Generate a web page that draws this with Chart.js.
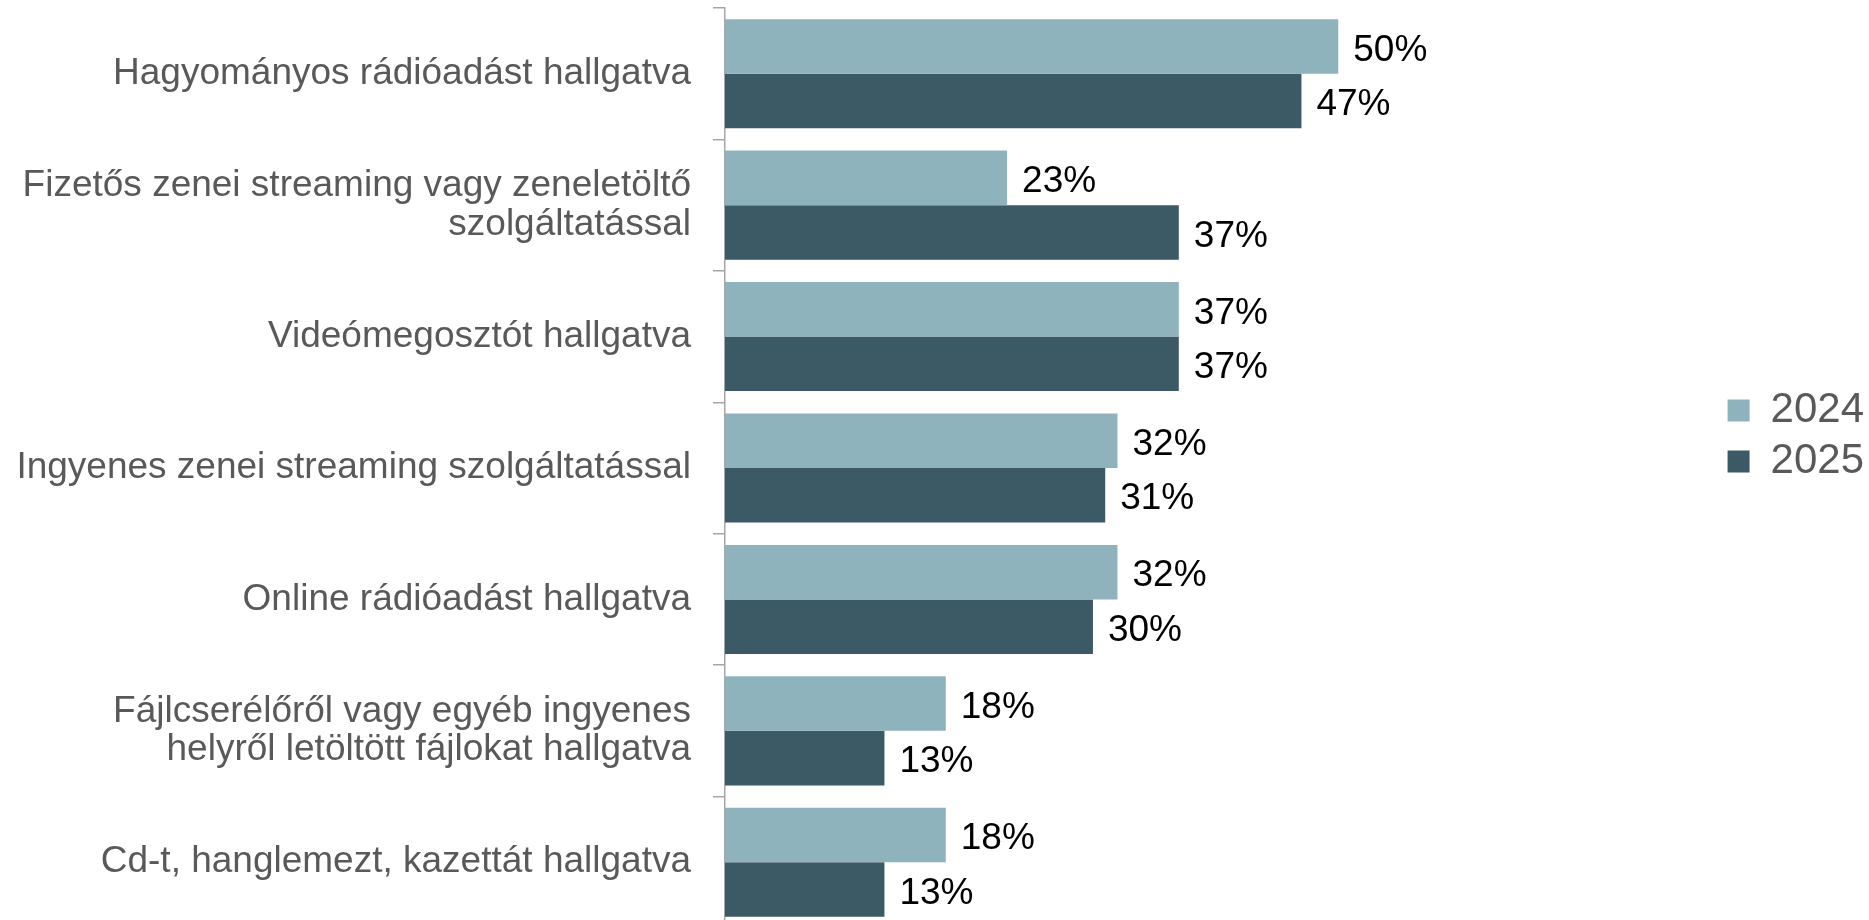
<!DOCTYPE html>
<html>
<head>
<meta charset="utf-8">
<script src="https://cdn.jsdelivr.net/npm/chart.js@4/dist/chart.umd.min.js"></script>
<style>
  html, body { margin: 0; padding: 0; background: #fff; overflow: hidden; }
  #wrap { width: 1869px; height: 930px; position: relative; }
</style>
</head>
<body>
<div id="wrap"><canvas id="myChart"></canvas></div>
<script>
// categories and values
const categories = [
  "Hagyományos rádióadást hallgatva",
  ["Fizetős zenei streaming vagy zeneletöltő", "szolgáltatással"],
  "Videómegosztót hallgatva",
  "Ingyenes zenei streaming szolgáltatással",
  "Online rádióadást hallgatva",
  ["Fájlcserélőről vagy egyéb ingyenes", "helyről letöltött fájlokat hallgatva"],
  "Cd-t, hanglemezt, kazettát hallgatva"
];
const seriesNames = ["2024", "2025"];
const values2024 = [50, 23, 37, 32, 32, 18, 18];
const values2025 = [47, 37, 37, 31, 30, 13, 13];
const colors = ["#8fb3bd", "#3c5a66"];

const FONT = "'Liberation Sans', Arial, sans-serif";

// value labels to the right of each bar
const barLabels = {
  id: 'barLabels',
  afterDatasetsDraw(chart) {
    const ctx = chart.ctx;
    ctx.save();
    ctx.font = "37px " + FONT;
    ctx.fillStyle = "#000";
    ctx.textAlign = "left";
    ctx.textBaseline = "middle";
    chart.data.datasets.forEach((ds, i) => {
      chart.getDatasetMeta(i).data.forEach((el, j) => {
        ctx.fillText(ds.data[j] + "%", el.x + 15, el.y + 4);
      });
    });
    ctx.restore();
  }
};

// legend sits a little above the middle in the original
const legendShift = {
  id: 'legendShift',
  afterLayout(chart) {
    chart.legend.top -= 32;
    chart.legend.bottom -= 32;
    chart.legend.left += 5;
    chart.legend.right += 5;
  }
};

new Chart("myChart", {
  type: "bar",
  data: {
    labels: categories,
    datasets: [
      { label: seriesNames[0], data: values2024, backgroundColor: colors[0] },
      { label: seriesNames[1], data: values2025, backgroundColor: colors[1] }
    ]
  },
  options: {
    indexAxis: 'y',
    responsive: true,
    maintainAspectRatio: false,
    animation: false,
    layout: { padding: { top: 8, bottom: 2, left: 0, right: 0 } },
    datasets: { bar: { categoryPercentage: 0.83, barPercentage: 1 } },
    scales: {
      x: { display: false, min: 0, max: 80.6 },
      y: {
        afterFit: s => { s.width = 725; s.paddingTop = 0; s.paddingBottom = 0; },
        border: { display: true, color: "#a6a6a6", width: 1.5 },
        grid: { offset: true, drawOnChartArea: false, tickLength: 12, color: "#a6a6a6", lineWidth: 1.5 },
        ticks: { color: "#595959", padding: 22, font: { family: FONT, size: 37, lineHeight: 1.05 } }
      }
    },
    plugins: {
      tooltip: { enabled: false },
      legend: {
        position: 'right',
        labels: {
          boxWidth: 22, boxHeight: 22, padding: 9,
          color: "#595959",
          font: { family: FONT, size: 42 }
        }
      }
    }
  },
  plugins: [barLabels, legendShift]
});
</script>
</body>
</html>
